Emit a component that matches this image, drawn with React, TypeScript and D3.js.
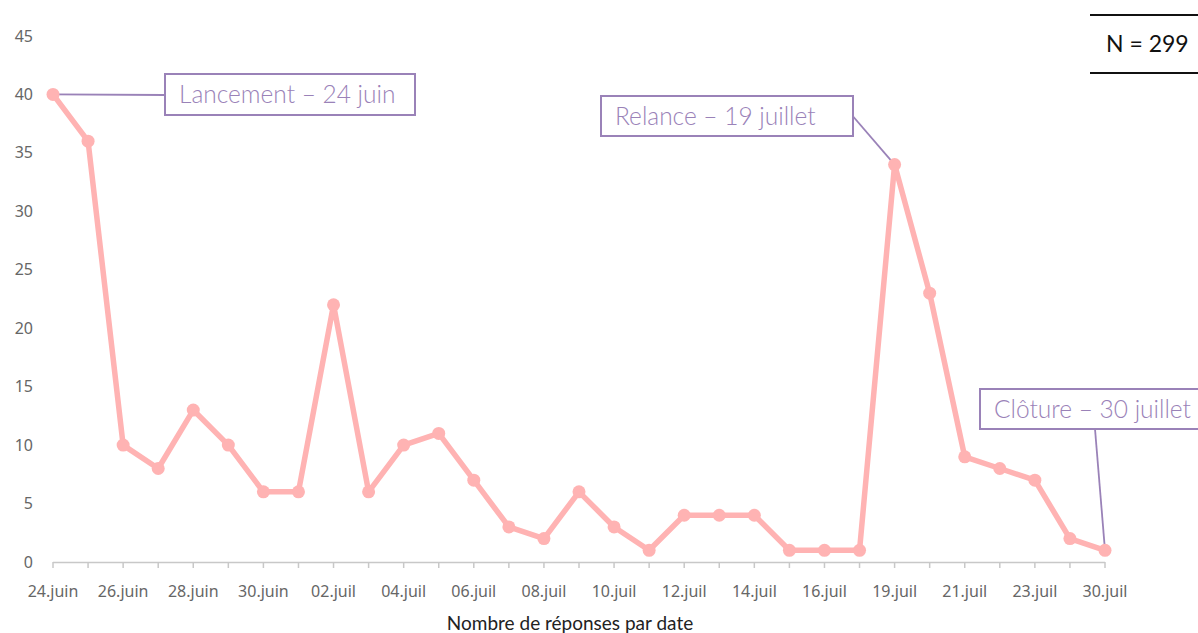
import React from "react";
import * as d3 from "d3";

const categories: string[] = [
  "24.juin", "25.juin", "26.juin", "27.juin", "28.juin", "29.juin", "30.juin",
  "01.juil", "02.juil", "03.juil", "04.juil", "05.juil", "06.juil", "07.juil",
  "08.juil", "09.juil", "10.juil", "11.juil", "12.juil", "13.juil", "14.juil",
  "15.juil", "16.juil", "18.juil", "19.juil", "20.juil", "21.juil", "22.juil",
  "23.juil", "24.juil", "30.juil",
];
const values: number[] = [
  40, 36, 10, 8, 13, 10, 6, 6, 22, 6, 10, 11, 7, 3, 2, 6, 3, 1, 4, 4, 4,
  1, 1, 1, 34, 23, 9, 8, 7, 2, 1,
];
const yTicks: number[] = [0, 5, 10, 15, 20, 25, 30, 35, 40, 45];
const xTitle = "Nombre de réponses par date";
const totalLabel = "N = 299";

const annotations = [
  { text: "Lancement – 24 juin", index: 0, box: { x: 165, y: 74, w: 250, h: 41 }, from: { x: 164, y: 95 } },
  { text: "Relance – 19 juillet", index: 24, box: { x: 601, y: 96, w: 252, h: 40 }, from: { x: 851, y: 114 } },
  { text: "Clôture – 30 juillet", index: 30, box: { x: 980, y: 389, w: 230, h: 40 }, from: { x: 1095, y: 429 } },
];

const W = 1198;
const H = 633;
const LINE = "#FFB3B3";
const PURPLE = "#9A82B8";

export default function App() {
  const x = d3.scalePoint<string>().domain(categories).range([53, 1105]);
  const y = d3.scaleLinear().domain([0, 45]).range([562, 36]);
  const line = d3
    .line<number>()
    .x((_, i) => x(categories[i]) as number)
    .y((d) => y(d));

  return (
    <svg
      width={W}
      height={H}
      style={{ position: "absolute", left: 0, top: 0, background: "#fff" }}
    >
      {/* y tick labels */}
      {yTicks.map((t) => (
        <text
          key={t}
          x={33}
          y={y(t)}
          dy="0.35em"
          textAnchor="end"
          fontFamily="'Noto Sans', sans-serif"
          fontSize={16}
          fill="#666"
        >
          {t}
        </text>
      ))}
      {/* x axis */}
      <line x1={x(categories[0])} x2={x(categories[categories.length - 1])} y1={562.5} y2={562.5} stroke="#c8c8c8" strokeWidth={1.5} />
      {categories.map((c) => (
        <line key={c} x1={x(c)} x2={x(c)} y1={562} y2={568} stroke="#c8c8c8" strokeWidth={1.5} />
      ))}
      {categories.map((c, i) =>
        i % 2 === 0 ? (
          <text
            key={"l" + c}
            x={x(c)}
            y={597}
            textAnchor="middle"
            fontFamily="'Noto Sans', sans-serif"
            fontSize={16}
            fill="#666"
          >
            {c}
          </text>
        ) : null
      )}
      <text x={570} y={630} textAnchor="middle" fontFamily="Lato, sans-serif" fontSize={19} fill="#222">
        {xTitle}
      </text>

      {/* annotation leaders */}
      {annotations.map((a) => (
        <line
          key={"ld" + a.index}
          x1={a.from.x}
          y1={a.from.y}
          x2={x(categories[a.index]) as number}
          y2={y(values[a.index])}
          stroke={PURPLE}
          strokeWidth={1.8}
        />
      ))}

      {/* series */}
      <path d={line(values) || ""} fill="none" stroke={LINE} strokeWidth={5.5} strokeLinejoin="round" />
      {values.map((v, i) => (
        <circle key={i} cx={x(categories[i])} cy={y(v)} r={6.5} fill={LINE} />
      ))}

      {/* annotation boxes */}
      {annotations.map((a) => (
        <g key={"bx" + a.index}>
          <rect x={a.box.x} y={a.box.y} width={a.box.w} height={a.box.h} fill="#fff" stroke={PURPLE} strokeWidth={2} />
          <text
            x={a.box.x + 14}
            y={a.box.y + a.box.h / 2}
            dy="0.36em"
            fontFamily="Lato, sans-serif"
            fontWeight={300}
            fontSize={24.5}
            fill={PURPLE}
          >
            {a.text}
          </text>
        </g>
      ))}

      {/* N total */}
      <line x1={1090} x2={W} y1={15} y2={15} stroke="#111" strokeWidth={2} />
      <line x1={1090} x2={W} y1={73} y2={73} stroke="#111" strokeWidth={2} />
      <text x={1106} y={44} dy="0.36em" fontFamily="Lato, sans-serif" fontSize={23} fill="#111">
        {totalLabel}
      </text>
    </svg>
  );
}
